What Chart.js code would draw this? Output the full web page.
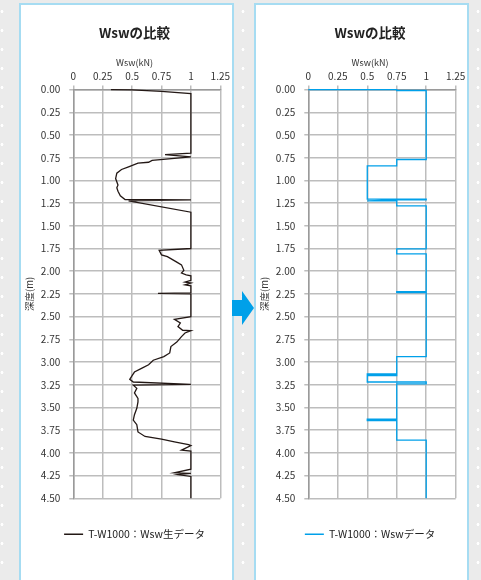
<!DOCTYPE html>
<html lang="ja">
<head>
<meta charset="utf-8">
<script src="https://cdn.jsdelivr.net/npm/chart.js@4"></script>
<style>
  html, body { margin: 0; padding: 0; }
  body { width: 481px; height: 580px; overflow: hidden; position: relative; background: #ebebeb;
         font-family: 'Noto Sans CJK JP', 'Noto Sans', sans-serif; }
  .dots { position: absolute; top: 0; width: 4px; height: 580px;
          background-image: radial-gradient(circle, #ffffff 1.2px, transparent 1.7px);
          background-size: 4px 19px; background-position: 0 2px; }
  .panel { position: absolute; top: 3px; height: 590px; background: #fff; border: 2px solid #a6dcf2; box-sizing: border-box; }
  canvas { position: absolute; top: 4px; }
  #arrow { position: absolute; left: 231px; top: 290px; z-index: 5; }
</style>
</head>
<body>
<div class="dots" style="left:0px"></div>
<div class="dots" style="left:241px"></div>
<div class="dots" style="left:476px"></div>
<div class="panel" style="left:19px; width:215px"></div>
<div class="panel" style="left:254px; width:215px"></div>
<svg id="arrow" width="24" height="38" viewBox="0 0 24 38">
  <polygon points="1,10 11,10 11,1 23,18 11,35 11,26 1,26" fill="#00a0e9"/>
</svg>
<canvas id="chartRaw" width="229" height="576" style="left:20px"></canvas>
<canvas id="chartStep" width="230" height="576" style="left:255px"></canvas>
<script>
const xTicks = ['0', '0.25', '0.5', '0.75', '1', '1.25'];
const yTicks = ['0.00', '0.25', '0.50', '0.75', '1.00', '1.25', '1.50', '1.75', '2.00', '2.25',
                '2.50', '2.75', '3.00', '3.25', '3.50', '3.75', '4.00', '4.25', '4.50'];

// 生データ (深度 m, Wsw kN)
const depthRaw = [0, 0.003, 0.02, 0.045, 0.70, 0.715, 0.74, 0.78, 0.80, 0.81, 0.85, 0.88, 0.92, 0.98, 1.05, 1.08, 1.12, 1.17, 1.21,
  1.215, 1.225, 1.35, 1.75, 1.77, 1.82, 1.84, 1.87, 1.90, 1.93, 1.99, 2.02, 2.04, 2.05, 2.10, 2.12, 2.13, 2.15, 2.16,
  2.24, 2.245, 2.25, 2.50, 2.53, 2.57, 2.61, 2.65, 2.655, 2.68, 2.72, 2.78, 2.83, 2.90, 2.94, 2.98, 3.03, 3.07, 3.11,
  3.15, 3.19, 3.22, 3.245, 3.255, 3.29, 3.34, 3.40, 3.44, 3.51, 3.58, 3.64, 3.69, 3.77, 3.82, 3.85, 3.88, 3.91, 3.92,
  3.97, 3.98, 4.18, 4.22, 4.225, 4.24, 4.26, 4.50];
const wswRaw = [0.32, 0.50, 0.75, 1.0, 1.0, 0.78, 1.0, 0.67, 0.64, 0.55, 0.47, 0.41, 0.37, 0.36, 0.38, 0.37, 0.38, 0.40, 0.44,
  1.0, 0.47, 1.0, 1.0, 0.73, 0.75, 0.80, 0.84, 0.88, 0.92, 0.94, 0.92, 0.96, 1.0, 1.0, 0.95, 1.0, 0.95, 1.0,
  1.0, 0.72, 1.0, 1.0, 0.86, 0.91, 0.89, 0.93, 1.0, 0.95, 0.92, 0.88, 0.83, 0.82, 0.77, 0.68, 0.64, 0.58, 0.52,
  0.50, 0.48, 0.51, 1.0, 0.51, 0.54, 0.52, 0.55, 0.55, 0.54, 0.52, 0.51, 0.54, 0.55, 0.61, 0.75, 0.86, 0.98, 1.0,
  0.92, 1.0, 1.0, 0.86, 1.0, 0.89, 1.0, 1.0];

// 整理データ
const depthStep = [0, 0, 0.01, 0.01, 0.77, 0.77, 0.84, 0.84, 1.205, 1.205, 1.215, 1.215, 1.225, 1.225, 1.28, 1.28,
  1.755, 1.755, 1.81, 1.81, 2.225, 2.225, 2.235, 2.235, 2.94, 2.94, 3.13, 3.13, 3.145, 3.145, 3.15, 3.15, 3.22, 3.22,
  3.24, 3.24, 3.63, 3.63, 3.645, 3.645, 3.86, 3.86, 4.50];
const wswStep = [0, 0.75, 0.75, 1, 1, 0.75, 0.75, 0.5, 0.5, 1, 1, 0.75, 0.5, 0.75, 0.75, 1,
  1, 0.75, 0.75, 1, 1, 0.75, 0.75, 1, 1, 0.75, 0.75, 0.5, 0.5, 0.75, 0.75, 0.5, 0.5, 1,
  1, 0.75, 0.75, 0.5, 0.5, 0.75, 0.75, 1, 1];

const FONT = "'Noto Sans CJK JP', 'Noto Sans', sans-serif";

function makeChart(id, label, color, xs, ys, padRight) {
  const pts = xs.map((x, i) => ({ x: x, y: ys[i] }));
  return new Chart(document.getElementById(id), {
    type: 'scatter',
    data: {
      datasets: [{
        label: label,
        data: pts,
        showLine: true,
        borderColor: color,
        backgroundColor: color,
        borderWidth: 1.3,
        pointRadius: 0,
        clip: false
      }]
    },
    options: {
      responsive: false,
      animation: false,
      devicePixelRatio: 1,
      layout: { padding: { left: 0, right: 0, top: 0, bottom: 30.5 } },
      plugins: {
        title: {
          display: true,
          text: 'Wswの比較',
          color: '#222',
          font: { family: FONT, size: 13.5, weight: 'bold' },
          padding: { top: 21, bottom: 0 }
        },
        subtitle: {
          display: true,
          text: 'Wsw(kN)',
          color: '#333',
          font: { family: FONT, size: 9 },
          padding: { top: 16, bottom: 0 }
        },
        legend: {
          position: 'bottom',
          labels: {
            usePointStyle: true,
            pointStyle: 'line',
            pointStyleWidth: 19,
            padding: 30.75,
            color: '#222',
            font: { family: FONT, size: 10.5 }
          }
        },
        tooltip: { enabled: false }
      },
      scales: {
        x: {
          type: 'linear',
          position: 'top',
          min: 0,
          max: 1.25,
          afterFit: s => { s.height = 21.6; },
          grid: { color: '#bdbdbd', lineWidth: 1.5, tickLength: 4 },
          border: { color: '#9a9a9a', width: 1.5 },
          ticks: {
            stepSize: 0.25,
            maxRotation: 0,
            padding: 3,
            color: '#333',
            font: { family: FONT, size: 10 },
            callback: v => xTicks[Math.round(v / 0.25)]
          }
        },
        y: {
          type: 'linear',
          reverse: true,
          min: 0,
          max: 4.5,
          afterFit: s => { s.width = 53.3; },
          grid: { color: '#bdbdbd', lineWidth: 1.5, tickLength: 4 },
          border: { color: '#9a9a9a', width: 1.5 },
          title: {
            display: true,
            text: '深度(m)',
            color: '#333',
            font: { family: FONT, size: 9.5 },
            padding: { top: 4, bottom: 0 }
          },
          ticks: {
            stepSize: 0.25,
            autoSkip: false,
            padding: 9,
            color: '#333',
            font: { family: FONT, size: 10 },
            callback: v => yTicks[Math.round(v / 0.25)]
          }
        },
        pad: {
          type: 'linear',
          position: 'right',
          afterFit: s => { s.width = padRight; },
          grid: { display: false, drawTicks: false },
          border: { display: false },
          ticks: { display: false }
        }
      }
    }
  });
}

makeChart('chartRaw', 'T-W1000：Wsw生データ', '#231815', wswRaw, depthRaw, 28.7);
makeChart('chartStep', 'T-W1000：Wswデータ', '#00a0e9', wswStep, depthStep, 29.3);
</script>
</body>
</html>
